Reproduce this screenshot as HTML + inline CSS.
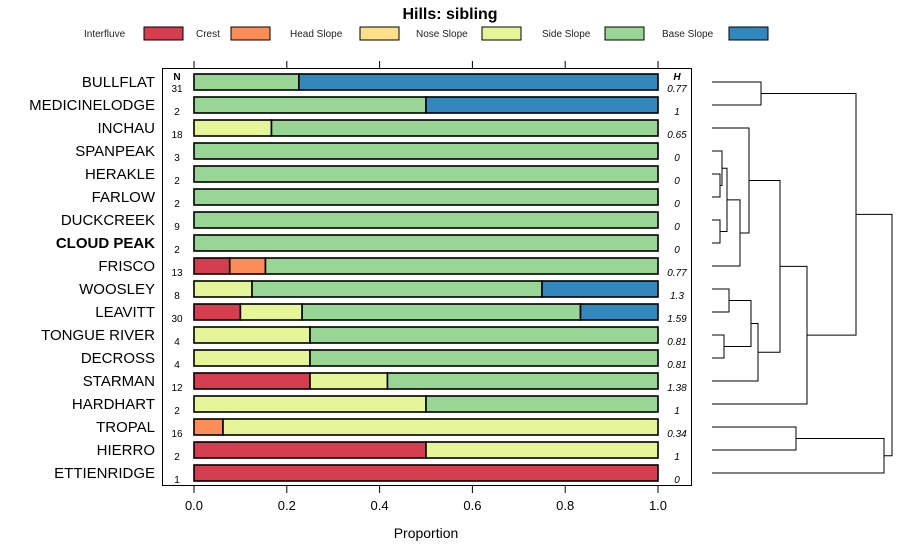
<!DOCTYPE html>
<html><head><meta charset="utf-8">
<style>
html,body{margin:0;padding:0;background:#fff;}
svg{display:block;font-family:"Liberation Sans",sans-serif;}
</style></head>
<body>
<svg id="chart" width="900" height="560" viewBox="0 0 900 560" xmlns="http://www.w3.org/2000/svg">
<text x="450" y="19" text-anchor="middle" font-size="16" font-weight="bold">Hills: sibling</text>
<g id="legend"></g>
<g id="panel"></g>
<g id="dendro"></g>
<text x="426" y="538" text-anchor="middle" font-size="14">Proportion</text>
</svg>
<script>
const categories = ["Interfluve","Crest","Head Slope","Nose Slope","Side Slope","Base Slope"];
const colors = ["#d53e4f","#fc8d59","#fee08b","#e6f598","#99d594","#3288bd"];
const series = ["BULLFLAT","MEDICINELODGE","INCHAU","SPANPEAK","HERAKLE","FARLOW","DUCKCREEK","CLOUD PEAK","FRISCO","WOOSLEY","LEAVITT","TONGUE RIVER","DECROSS","STARMAN","HARDHART","TROPAL","HIERRO","ETTIENRIDGE"];
const counts = [31,2,18,3,2,2,9,2,13,8,30,4,4,12,2,16,2,1];
const entropy = ["0.77","1","0.65","0","0","0","0","0","0.77","1.3","1.59","0.81","0.81","1.38","1","0.34","1","0"];
const proportions = [
 [0,0,0,0,0.226,0.774],
 [0,0,0,0,0.5,0.5],
 [0,0,0,0.167,0.833,0],
 [0,0,0,0,1,0],
 [0,0,0,0,1,0],
 [0,0,0,0,1,0],
 [0,0,0,0,1,0],
 [0,0,0,0,1,0],
 [0.077,0.077,0,0,0.846,0],
 [0,0,0,0.125,0.625,0.25],
 [0.1,0,0,0.133,0.6,0.167],
 [0,0,0,0.25,0.75,0],
 [0,0,0,0.25,0.75,0],
 [0.25,0,0,0.167,0.583,0],
 [0,0,0,0.5,0.5,0],
 [0,0.0625,0,0.9375,0,0],
 [0.5,0,0,0.5,0,0],
 [1,0,0,0,0,0]
];
const xTicks = [0,0.2,0.4,0.6,0.8,1.0];
const xTickLabels = ["0.0","0.2","0.4","0.6","0.8","1.0"];
// dendrogram merges: [leftNode, rightNode, height]; leaves 0..17, merges numbered 18+
const merges = [
 [0,1,49],[4,5,8],[3,19,10],[6,7,8],[20,21,15],[22,8,28],[2,23,37],
 [9,10,17],[11,12,12],[25,26,39],[27,13,46],[24,28,68],[29,14,95],
 [18,30,144],[15,16,84],[32,17,172],[31,33,180]
];

const NS="http://www.w3.org/2000/svg";
function mk(tag, attrs, parent, text){
  const e=document.createElementNS(NS,tag);
  for(const k in attrs) e.setAttribute(k,attrs[k]);
  if(text!==undefined) e.textContent=text;
  parent.appendChild(e); return e;
}
const x0=194, x1=658;
const xs = v => x0 + v*(x1-x0);
const rowY = i => 82 + i*23;
const hs = h => 712 + h;

const lg=document.getElementById('legend');
const legX=[[84,144],[196,231],[290,360],[416,482],[542,605],[662,729]];
categories.forEach((c,i)=>{
  const t=mk('text',{x:legX[i][0],y:37,'font-size':10,fill:'#222'},lg,c);
  
  
  const r=mk('rect',{x:legX[i][1],y:27,width:39,height:13,fill:colors[i],stroke:'#000','stroke-width':1},lg);
  
  
});

const p=document.getElementById('panel');
const fr=mk('rect',{x:162.5,y:68.5,width:529,height:417,fill:'none',stroke:'#000','stroke-width':1},p);


xTicks.forEach((v,i)=>{
  mk('line',{x1:xs(v),x2:xs(v),y1:61,y2:68,stroke:'#000'},p);
  mk('line',{x1:xs(v),x2:xs(v),y1:486,y2:493,stroke:'#000'},p);
  const t=mk('text',{x:xs(v),y:510,'text-anchor':'middle','font-size':13},p,xTickLabels[i]);
  
  
});
const nh=mk('text',{x:177,y:80,'text-anchor':'middle','font-size':10,'font-weight':'bold'},p,'N');


const hh=mk('text',{x:677,y:80,'text-anchor':'middle','font-size':10,'font-weight':'bold','font-style':'italic'},p,'H');


series.forEach((s,i)=>{
  const y=rowY(i);
  const lab=mk('text',{x:155,y:y+5,'text-anchor':'end','font-size':15,'font-weight':s==='CLOUD PEAK'?'bold':'normal'},p,s);
  
  
  const n=mk('text',{x:177,y:y+10,'text-anchor':'middle','font-size':10},p,String(counts[i]));
  
  
  const h=mk('text',{x:677,y:y+10,'text-anchor':'middle','font-size':10,'font-style':'italic'},p,entropy[i]);
  
  
  let acc=0;
  proportions[i].forEach((v,k)=>{
    if(v<=0) return;
    const r=mk('rect',{x:xs(acc),y:y-8,width:xs(acc+v)-xs(acc),height:16,fill:colors[k],stroke:'#000','stroke-width':1.6},p);
    
    
    acc+=v;
  });
});

const d=document.getElementById('dendro');
const nodes=[];
series.forEach((s,i)=>nodes.push({y:rowY(i),h:0}));
merges.forEach(m=>{
  const a=nodes[m[0]], b=nodes[m[1]], H=m[2];
  const pl=mk('polyline',{points:`${hs(a.h)},${a.y} ${hs(H)},${a.y} ${hs(H)},${b.y} ${hs(b.h)},${b.y}`,fill:'none',stroke:'#000','stroke-width':1},d);
  
  
  nodes.push({y:(a.y+b.y)/2,h:H});
});
</script>
</body></html>
